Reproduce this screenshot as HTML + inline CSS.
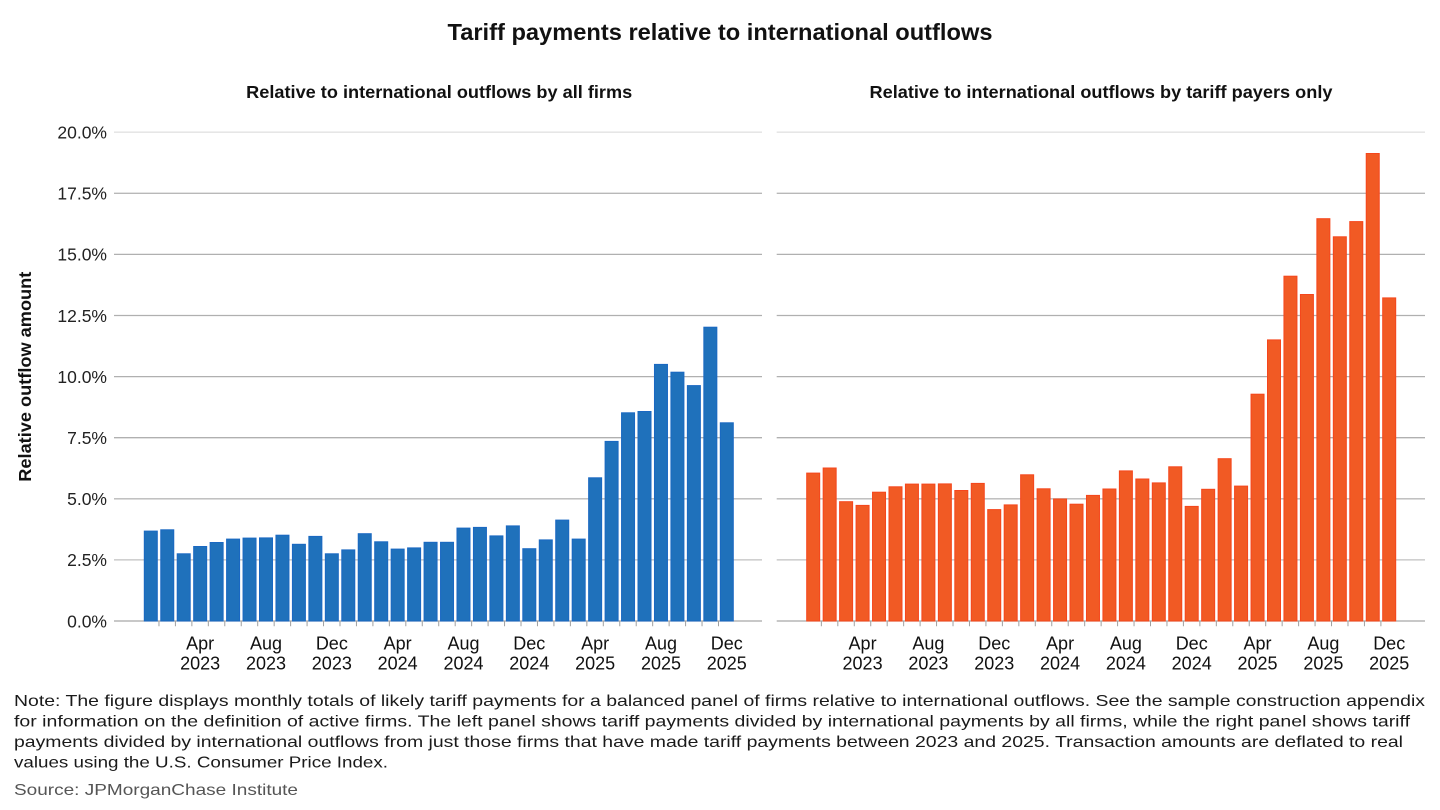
<!DOCTYPE html>
<html>
<head>
<meta charset="utf-8">
<style>
html,body{margin:0;padding:0;background:#fff;}
svg{display:block;}
text{font-family:"Liberation Sans",Arial,sans-serif;}
</style>
</head>
<body>
<svg width="1440" height="810" viewBox="0 0 1440 810" xmlns="http://www.w3.org/2000/svg">
<rect width="1440" height="810" fill="#fff"/>

<!-- Title -->
<text x="720" y="40" text-anchor="middle" font-size="23" font-weight="bold" fill="#111" textLength="545" lengthAdjust="spacingAndGlyphs">Tariff payments relative to international outflows</text>

<!-- Subtitles -->
<text x="439.2" y="98" text-anchor="middle" font-size="17.5" font-weight="bold" fill="#111" textLength="386" lengthAdjust="spacingAndGlyphs">Relative to international outflows by all firms</text>
<text x="1101" y="98" text-anchor="middle" font-size="17.5" font-weight="bold" fill="#111" textLength="463" lengthAdjust="spacingAndGlyphs">Relative to international outflows by tariff payers only</text>

<!-- Y axis title -->
<text transform="translate(31,376.7) rotate(-90)" x="0" y="0" text-anchor="middle" font-size="17.5" font-weight="bold" fill="#111" textLength="210" lengthAdjust="spacingAndGlyphs">Relative outflow amount</text>

<!-- Gridlines left -->
<g stroke-width="1.3">
<line x1="114" y1="132.2" x2="762" y2="132.2" stroke="#e2e2e2"/>
<line x1="114" y1="193.3" x2="762" y2="193.3" stroke="#b8b8b8"/>
<line x1="114" y1="254.4" x2="762" y2="254.4" stroke="#b0b0b0"/>
<line x1="114" y1="315.5" x2="762" y2="315.5" stroke="#b0b0b0"/>
<line x1="114" y1="376.6" x2="762" y2="376.6" stroke="#b0b0b0"/>
<line x1="114" y1="437.7" x2="762" y2="437.7" stroke="#b0b0b0"/>
<line x1="114" y1="498.8" x2="762" y2="498.8" stroke="#b8b8b8"/>
<line x1="114" y1="559.9" x2="762" y2="559.9" stroke="#c0c0c0"/>
<line x1="114" y1="621" x2="762" y2="621" stroke="#a8a8a8"/>
</g>
<!-- Gridlines right -->
<g stroke-width="1.3">
<line x1="776.7" y1="132.2" x2="1425" y2="132.2" stroke="#e2e2e2"/>
<line x1="776.7" y1="193.3" x2="1425" y2="193.3" stroke="#b8b8b8"/>
<line x1="776.7" y1="254.4" x2="1425" y2="254.4" stroke="#b0b0b0"/>
<line x1="776.7" y1="315.5" x2="1425" y2="315.5" stroke="#b0b0b0"/>
<line x1="776.7" y1="376.6" x2="1425" y2="376.6" stroke="#b0b0b0"/>
<line x1="776.7" y1="437.7" x2="1425" y2="437.7" stroke="#b0b0b0"/>
<line x1="776.7" y1="498.8" x2="1425" y2="498.8" stroke="#b8b8b8"/>
<line x1="776.7" y1="559.9" x2="1425" y2="559.9" stroke="#c0c0c0"/>
<line x1="776.7" y1="621" x2="1425" y2="621" stroke="#a8a8a8"/>
</g>

<!-- Y tick labels -->
<g font-size="17.5" fill="#222" text-anchor="end">
<text x="107" y="138.5">20.0%</text>
<text x="107" y="199.6">17.5%</text>
<text x="107" y="260.7">15.0%</text>
<text x="107" y="321.8">12.5%</text>
<text x="107" y="382.9">10.0%</text>
<text x="107" y="444">7.5%</text>
<text x="107" y="505.1">5.0%</text>
<text x="107" y="566.2">2.5%</text>
<text x="107" y="627.3">0.0%</text>
</g>

<!-- Ticks -->
<line x1="158.46" y1="623.7" x2="719.5" y2="623.7" stroke="#a0a0a0" stroke-width="5" stroke-dasharray="1 15.457"/>
<line x1="820.86" y1="623.7" x2="1381.9" y2="623.7" stroke="#a0a0a0" stroke-width="5" stroke-dasharray="1 15.457"/>

<!-- Left bars -->
<g fill="#1f71bb" stroke="#1a68c2" stroke-width="1">
<rect x="144.3" y="531.1" width="13" height="89.9"/>
<rect x="160.76" y="529.8" width="13" height="91.2"/>
<rect x="177.21" y="553.8" width="13" height="67.2"/>
<rect x="193.67" y="546.5" width="13" height="74.5"/>
<rect x="210.13" y="542.5" width="13" height="78.5"/>
<rect x="226.59" y="539.1" width="13" height="81.9"/>
<rect x="243.04" y="538.1" width="13" height="82.9"/>
<rect x="259.5" y="537.9" width="13" height="83.1"/>
<rect x="275.96" y="535.2" width="13" height="85.8"/>
<rect x="292.41" y="544.3" width="13" height="76.7"/>
<rect x="308.87" y="536.4" width="13" height="84.6"/>
<rect x="325.33" y="553.8" width="13" height="67.2"/>
<rect x="341.78" y="549.9" width="13" height="71.1"/>
<rect x="358.24" y="533.7" width="13" height="87.3"/>
<rect x="374.7" y="541.8" width="13" height="79.2"/>
<rect x="391.16" y="549.1" width="13" height="71.9"/>
<rect x="407.61" y="547.9" width="13" height="73.1"/>
<rect x="424.07" y="542.3" width="13" height="78.7"/>
<rect x="440.53" y="542.3" width="13" height="78.7"/>
<rect x="456.98" y="528.1" width="13" height="92.9"/>
<rect x="473.44" y="527.4" width="13" height="93.6"/>
<rect x="489.9" y="535.9" width="13" height="85.1"/>
<rect x="506.35" y="525.9" width="13" height="95.1"/>
<rect x="522.81" y="548.7" width="13" height="72.3"/>
<rect x="539.27" y="539.9" width="13" height="81.1"/>
<rect x="555.73" y="520.1" width="13" height="100.9"/>
<rect x="572.18" y="539.1" width="13" height="81.9"/>
<rect x="588.64" y="477.8" width="13" height="143.2"/>
<rect x="605.1" y="441.4" width="13" height="179.6"/>
<rect x="621.55" y="412.8" width="13" height="208.2"/>
<rect x="638.01" y="411.5" width="13" height="209.5"/>
<rect x="654.47" y="364.4" width="13" height="256.6"/>
<rect x="670.92" y="372.2" width="13" height="248.8"/>
<rect x="687.38" y="385.6" width="13" height="235.4"/>
<rect x="703.84" y="327.2" width="13" height="293.8"/>
<rect x="720.3" y="422.8" width="13" height="198.2"/>
</g>

<!-- Right bars -->
<g fill="#f15a24" stroke="#f5461c" stroke-width="1">
<rect x="806.7" y="473.1" width="13" height="147.9"/>
<rect x="823.16" y="468" width="13" height="153"/>
<rect x="839.61" y="501.7" width="13" height="119.3"/>
<rect x="856.07" y="505.4" width="13" height="115.6"/>
<rect x="872.53" y="492.2" width="13" height="128.8"/>
<rect x="888.99" y="486.8" width="13" height="134.2"/>
<rect x="905.44" y="484.1" width="13" height="136.9"/>
<rect x="921.9" y="484.1" width="13" height="136.9"/>
<rect x="938.36" y="483.9" width="13" height="137.1"/>
<rect x="954.81" y="490.5" width="13" height="130.5"/>
<rect x="971.27" y="483.4" width="13" height="137.6"/>
<rect x="987.73" y="509.6" width="13" height="111.4"/>
<rect x="1004.18" y="504.9" width="13" height="116.1"/>
<rect x="1020.64" y="474.8" width="13" height="146.2"/>
<rect x="1037.1" y="488.8" width="13" height="132.2"/>
<rect x="1053.56" y="499" width="13" height="122"/>
<rect x="1070.01" y="504.2" width="13" height="116.8"/>
<rect x="1086.47" y="495.4" width="13" height="125.6"/>
<rect x="1102.93" y="489" width="13" height="132"/>
<rect x="1119.38" y="470.9" width="13" height="150.1"/>
<rect x="1135.84" y="479" width="13" height="142"/>
<rect x="1152.3" y="482.9" width="13" height="138.1"/>
<rect x="1168.75" y="466.8" width="13" height="154.2"/>
<rect x="1185.21" y="506.4" width="13" height="114.6"/>
<rect x="1201.67" y="489.3" width="13" height="131.7"/>
<rect x="1218.13" y="458.7" width="13" height="162.3"/>
<rect x="1234.58" y="486.1" width="13" height="134.9"/>
<rect x="1251.04" y="394.2" width="13" height="226.8"/>
<rect x="1267.5" y="339.9" width="13" height="281.1"/>
<rect x="1283.95" y="276.2" width="13" height="344.8"/>
<rect x="1300.41" y="294.5" width="13" height="326.5"/>
<rect x="1316.87" y="218.7" width="13" height="402.3"/>
<rect x="1333.32" y="236.8" width="13" height="384.2"/>
<rect x="1349.78" y="221.6" width="13" height="399.4"/>
<rect x="1366.24" y="153.5" width="13" height="467.5"/>
<rect x="1382.7" y="297.9" width="13" height="323.1"/>
</g>

<!-- X labels left -->
<g font-size="18" fill="#111" text-anchor="middle">
<text x="200.17" y="649.5">Apr</text><text x="200.17" y="669.5">2023</text>
<text x="266" y="649.5">Aug</text><text x="266" y="669.5">2023</text>
<text x="331.83" y="649.5">Dec</text><text x="331.83" y="669.5">2023</text>
<text x="397.66" y="649.5">Apr</text><text x="397.66" y="669.5">2024</text>
<text x="463.48" y="649.5">Aug</text><text x="463.48" y="669.5">2024</text>
<text x="529.31" y="649.5">Dec</text><text x="529.31" y="669.5">2024</text>
<text x="595.14" y="649.5">Apr</text><text x="595.14" y="669.5">2025</text>
<text x="660.97" y="649.5">Aug</text><text x="660.97" y="669.5">2025</text>
<text x="726.8" y="649.5">Dec</text><text x="726.8" y="669.5">2025</text>
</g>
<!-- X labels right -->
<g font-size="18" fill="#111" text-anchor="middle">
<text x="862.57" y="649.5">Apr</text><text x="862.57" y="669.5">2023</text>
<text x="928.4" y="649.5">Aug</text><text x="928.4" y="669.5">2023</text>
<text x="994.23" y="649.5">Dec</text><text x="994.23" y="669.5">2023</text>
<text x="1060.06" y="649.5">Apr</text><text x="1060.06" y="669.5">2024</text>
<text x="1125.88" y="649.5">Aug</text><text x="1125.88" y="669.5">2024</text>
<text x="1191.71" y="649.5">Dec</text><text x="1191.71" y="669.5">2024</text>
<text x="1257.54" y="649.5">Apr</text><text x="1257.54" y="669.5">2025</text>
<text x="1323.37" y="649.5">Aug</text><text x="1323.37" y="669.5">2025</text>
<text x="1389.2" y="649.5">Dec</text><text x="1389.2" y="669.5">2025</text>
</g>

<!-- Note -->
<g font-size="16" fill="#1a1a1a">
<text x="14" y="706" textLength="1411" lengthAdjust="spacingAndGlyphs">Note: The figure displays monthly totals of likely tariff payments for a balanced panel of firms relative to international outflows. See the sample construction appendix</text>
<text x="14" y="726.5" textLength="1396" lengthAdjust="spacingAndGlyphs">for information on the definition of active firms. The left panel shows tariff payments divided by international payments by all firms, while the right panel shows tariff</text>
<text x="14" y="747" textLength="1389" lengthAdjust="spacingAndGlyphs">payments divided by international outflows from just those firms that have made tariff payments between 2023 and 2025. Transaction amounts are deflated to real</text>
<text x="14" y="767.5" textLength="374" lengthAdjust="spacingAndGlyphs">values using the U.S. Consumer Price Index.</text>
</g>
<text x="14" y="795" font-size="16" fill="#555" textLength="284" lengthAdjust="spacingAndGlyphs">Source: JPMorganChase Institute</text>
</svg>
</body>
</html>
